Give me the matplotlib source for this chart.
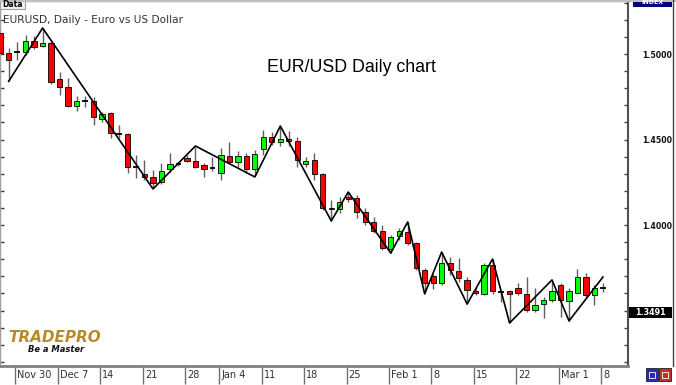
import matplotlib.pyplot as plt
from matplotlib.patches import Rectangle
from matplotlib.lines import Line2D
from matplotlib.transforms import offset_copy

# daily EURUSD candles, Nov 26 2009 .. Mar 8 2010
opens = [1.5123, 1.5006, 1.5012, 1.5012, 1.5076, 1.5047, 1.5065, 1.4854, 1.4807, 1.4696,
         1.4725, 1.4725, 1.4620, 1.4655, 1.4532, 1.4532, 1.4339, 1.4298, 1.4281, 1.4252,
         1.4328, 1.4357, 1.4392, 1.4375, 1.4351, 1.4334, 1.4304, 1.4404, 1.4369, 1.4404,
         1.4328, 1.4445, 1.4515, 1.4486, 1.4503, 1.4491, 1.4357, 1.4380, 1.4298, 1.4100,
         1.4094, 1.4164, 1.4158, 1.4076, 1.4018, 1.3965, 1.3860, 1.3936, 1.3959, 1.3895,
         1.3737, 1.3702, 1.3661, 1.3778, 1.3731, 1.3679, 1.3614, 1.3597, 1.3766, 1.3608,
         1.3614, 1.3632, 1.3597, 1.3503, 1.3538, 1.3562, 1.3649, 1.3556, 1.3602, 1.3696,
         1.3591, 1.3632]
highs = [1.5141, 1.5035, 1.5070, 1.5111, 1.5106, 1.5150, 1.5076, 1.4895, 1.4860, 1.4755,
         1.4755, 1.4749, 1.4661, 1.4661, 1.4585, 1.4538, 1.4410, 1.4380, 1.4322, 1.4363,
         1.4421, 1.4369, 1.4410, 1.4456, 1.4363, 1.4398, 1.4450, 1.4486, 1.4433, 1.4421,
         1.4439, 1.4556, 1.4544, 1.4575, 1.4550, 1.4515, 1.4398, 1.4421, 1.4304, 1.4146,
         1.4164, 1.4193, 1.4176, 1.4100, 1.4047, 1.4000, 1.3942, 1.3983, 1.4018, 1.3901,
         1.3749, 1.3714, 1.3842, 1.3813, 1.3807, 1.3696, 1.3632, 1.3778, 1.3801, 1.3620,
         1.3620, 1.3661, 1.3696, 1.3632, 1.3579, 1.3679, 1.3661, 1.3632, 1.3743, 1.3719,
         1.3649, 1.3661]
lows = [1.4994, 1.4840, 1.4965, 1.4994, 1.5029, 1.5041, 1.4825, 1.4760, 1.4690, 1.4667,
        1.4690, 1.4585, 1.4603, 1.4509, 1.4509, 1.4304, 1.4275, 1.4263, 1.4215, 1.4240,
        1.4310, 1.4345, 1.4369, 1.4334, 1.4281, 1.4316, 1.4263, 1.4363, 1.4339, 1.4304,
        1.4285, 1.4410, 1.4468, 1.4462, 1.4462, 1.4339, 1.4339, 1.4263, 1.4088, 1.4024,
        1.4070, 1.4135, 1.4041, 1.4000, 1.3953, 1.3854, 1.3836, 1.3912, 1.3883, 1.3737,
        1.3600, 1.3626, 1.3649, 1.3708, 1.3667, 1.3538, 1.3591, 1.3591, 1.3597, 1.3550,
        1.3430, 1.3591, 1.3491, 1.3491, 1.3456, 1.3550, 1.3462, 1.3439, 1.3600, 1.3579,
        1.3532, 1.3608]
closes = [1.5006, 1.4965, 1.5010, 1.5076, 1.5041, 1.5065, 1.4836, 1.4807, 1.4696, 1.4725,
          1.4722, 1.4632, 1.4649, 1.4538, 1.4530, 1.4339, 1.4337, 1.4281, 1.4246, 1.4316,
          1.4357, 1.4355, 1.4375, 1.4339, 1.4328, 1.4332, 1.4410, 1.4369, 1.4404, 1.4328,
          1.4415, 1.4515, 1.4486, 1.4503, 1.4491, 1.4380, 1.4375, 1.4298, 1.4100, 1.4094,
          1.4135, 1.4152, 1.4076, 1.4018, 1.3965, 1.3866, 1.3930, 1.3965, 1.3895, 1.3749,
          1.3661, 1.3661, 1.3778, 1.3737, 1.3690, 1.3620, 1.3602, 1.3766, 1.3614, 1.3606,
          1.3597, 1.3602, 1.3503, 1.3532, 1.3562, 1.3614, 1.3562, 1.3614, 1.3696, 1.3591,
          1.3632, 1.3630]

# zigzag swing points (bar index, price)
zz_idx = [1, 5, 18, 23, 30, 33, 39, 41, 46, 48, 50, 52, 55, 58, 60, 65, 67, 71]
zz_price = [1.4840, 1.5152, 1.4211, 1.4462, 1.4281, 1.4579, 1.4024, 1.4193, 1.3836,
            1.4018, 1.3597, 1.3842, 1.3538, 1.3801, 1.3427, 1.3679, 1.3439, 1.3696]

date_idx = [2, 7, 12, 17, 22, 26, 31, 36, 41, 46, 51, 56, 61, 66, 71]
date_labels = ['Nov 30', 'Dec 7', '14', '21', '28', 'Jan 4', '11', '18', '25',
               'Feb 1', '8', '15', '22', 'Mar 1', '8']

price_ticks = [1.35, 1.40, 1.45, 1.50]
price_labels = ['', '1.4000', '1.4500', '1.5000']
last_price = 1.3491

W, H = 676, 385
fig = plt.figure(figsize=(W / 100, H / 100), dpi=100)
fig.patch.set_facecolor('white')

ax = fig.add_axes([0, 19 / H, 628 / W, 365 / H])
ax.set_xlim(-0.02, 73.95)
ax.set_ylim(1.31756, 1.5310)

# candles
for i in range(len(opens)):
    o, h, l, c = opens[i], highs[i], lows[i], closes[i]
    ax.vlines(i, l, h, color='#606060', lw=1, zorder=2)
    if abs(c - o) < 0.00035:
        ax.hlines((o + c) / 2, i - 0.32, i + 0.32, color='black', lw=1.3, zorder=3)
    else:
        col = '#00ff00' if c > o else '#ff0000'
        ax.bar(i, abs(c - o), bottom=min(o, c), width=0.62, color=col,
               edgecolor='black', linewidth=0.6, zorder=3)

ax.plot(zz_idx, zz_price, color='black', lw=1.2, zorder=4)

# axes styling
for s in ['left', 'top']:
    ax.spines[s].set_color('#a0a0a0')
    ax.spines[s].set_linewidth(1)
ax.spines['right'].set_color('#505050')
ax.spines['right'].set_linewidth(1.5)
ax.spines['bottom'].set_color('#808080')
ax.spines['bottom'].set_linewidth(2)

ax.set_yticks(price_ticks)
ax.set_yticklabels(price_labels)
ax.set_yticks([1.32 + 0.01 * k for k in range(22)], minor=True)
ax.yaxis.set_ticks_position('both')
ax.tick_params(axis='y', which='both', direction='in', length=3, width=1,
               color='#404040', labelleft=False, labelright=True, pad=10.5,
               labelsize=5.6, labelcolor='#101010')
for lbl in ax.get_yticklabels():
    lbl.set_fontweight('bold')

sep = [d - 0.2 for d in date_idx]
ax.set_xticks(sep)
ax.set_xticklabels([''] * len(sep))
ax.tick_params(axis='x', direction='out', length=13, width=1, color='#707070')
trans = offset_copy(ax.get_xaxis_transform(), fig=fig, x=2, y=-4, units='dots')
for x, lab in zip(sep, date_labels):
    ax.text(x, 0, lab, transform=trans, ha='left', va='top', fontsize=7,
            color='#303030', clip_on=False)

# texts
fig.text(3 / W, 1 - 20 / H, 'EURUSD, Daily - Euro vs US Dollar', fontsize=7.6,
         color='#333333', va='center', ha='left')
fig.text(351 / W, 1 - 68 / H, 'EUR/USD Daily chart', fontsize=12.8,
         family='Liberation Sans', ha='center', va='center', color='black')

fig.patches.append(Rectangle((0, 1 - 9 / H), 25 / W, 9 / H, transform=fig.transFigure,
                             facecolor='#f2f2f2', edgecolor='#a0a0a0', lw=0.8))
fig.text(2 / W, 1 - 4.5 / H, 'Data', fontsize=5.5, weight='bold', va='center')

fig.patches.append(Rectangle((633 / W, 1 - 7 / H), 39 / W, 7 / H, transform=fig.transFigure,
                             facecolor='#000080', edgecolor='none'))
fig.text(652.5 / W, 1 - 2.5 / H, 'INDEX', fontsize=4.5, weight='bold', color='white',
         ha='center', va='center')

fig.patches.append(Rectangle((629 / W, 1 - 318 / H), 43 / W, 11 / H, transform=fig.transFigure,
                             facecolor='black', edgecolor='none'))
fig.text(650.5 / W, 1 - 312.5 / H, '%.4f' % last_price, fontsize=5.8, weight='bold',
         color='white', ha='center', va='center')

fig.lines.append(Line2D([0, 1], [1 - 1 / H, 1 - 1 / H], transform=fig.transFigure,
                        color='#c0c0c0', lw=1.5))
fig.lines.append(Line2D([673 / W, 673 / W], [1 - 366 / H, 1], transform=fig.transFigure,
                        color='#404040', lw=1))

for x0, col in [(646, '#2a2ab8'), (659, '#c03030')]:
    fig.patches.append(Rectangle((x0 / W, 1 - 381 / H), 12 / W, 13 / H,
                                 transform=fig.transFigure, facecolor=col,
                                 edgecolor='#202020', lw=0.6))
    fig.patches.append(Rectangle(((x0 + 3) / W, 1 - 378 / H), 6 / W, 6 / H,
                                 transform=fig.transFigure, facecolor='none',
                                 edgecolor='white', lw=0.6))

fig.text(8 / W, 1 - 338 / H, 'TRADEPRO', fontsize=11, weight='bold', style='italic',
         color='#b88a2e', va='center', ha='left')
fig.text(28 / W, 1 - 349 / H, 'Be a Master', fontsize=6, weight='bold', style='italic',
         color='#111111', va='center', ha='left')

fig.savefig('out.png', dpi=100)
